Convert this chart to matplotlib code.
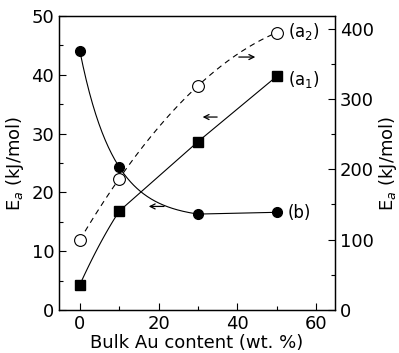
import numpy as np
import matplotlib
matplotlib.use("Agg")
import matplotlib.pyplot as plt
from matplotlib.ticker import MultipleLocator

# data
au = [0, 10, 30, 50]
ea_b = [44.0, 24.3, 16.3, 16.6]        # (b), left axis
ea_a1 = [4.3, 16.8, 28.6, 39.7]        # (a1), left axis
ea_a2 = [100, 186, 319, 394]           # (a2), right axis


def exp_through(x, y, xs):
    # y = A + B*q**(x/10) through the points at 0, 10, 30
    d1 = y[0] - y[1]
    d2 = y[1] - y[2]
    q = (-1 + np.sqrt(1 + 4 * d2 / d1)) / 2
    B = d1 / (1 - q)
    A = y[0] - B
    return A + B * q ** (xs / 10.0)


fig = plt.figure(figsize=(3.99, 3.53), dpi=100)
ax = fig.add_axes([0.148, 0.122, 0.692, 0.833])
ax2 = ax.twinx()

xs = np.linspace(0, 50, 200)

# (b): smooth decay to 30, then straight
xb = np.linspace(0, 30, 150)
ax.plot(xb, exp_through(au[:3], ea_b[:3], xb), color="black", lw=0.8)
ax.plot(au[2:], ea_b[2:], color="black", lw=0.8)
ax.plot(au, ea_b, "o", color="black", ms=7, zorder=5)

# (a1): gentle bend at the start, straight after
c1 = np.polyfit(au[:3], ea_a1[:3], 2)
x1 = np.linspace(0, 10, 50)
ax.plot(x1, np.polyval(c1, x1), color="black", lw=0.8)
ax.plot(au[1:], ea_a1[1:], color="black", lw=0.8)
ax.plot(au, ea_a1, "s", color="black", ms=6.5, zorder=5)

# (a2) on right axis
c2 = np.polyfit(au, ea_a2, 2)
ax2.plot(xs, np.polyval(c2, xs), color="black", lw=0.8, ls=(0, (5, 4)))
ax2.plot(au, ea_a2, "o", mfc="white", mec="black", mew=0.8, ms=8.5, zorder=5)

ax.set_xlim(-5.3, 64.9)
ax.set_ylim(0, 50)
ax2.set_ylim(0, 418)

ax.xaxis.set_major_locator(MultipleLocator(20))
ax.xaxis.set_minor_locator(MultipleLocator(10))
ax.yaxis.set_major_locator(MultipleLocator(10))
ax.yaxis.set_minor_locator(MultipleLocator(5))
ax2.yaxis.set_major_locator(MultipleLocator(100))
ax2.yaxis.set_minor_locator(MultipleLocator(50))

for a in (ax, ax2):
    a.tick_params(which="both", direction="in", labelsize=13, width=0.8)
    a.tick_params(which="major", length=5)
    a.tick_params(which="minor", length=3)
    for s in a.spines.values():
        s.set_linewidth(0.9)

ax.set_xlabel("Bulk Au content (wt. %)", fontsize=13, labelpad=1)
ax.set_ylabel("E$_a$ (kJ/mol)", fontsize=13, labelpad=4)
ax2.set_ylabel("E$_a$ (kJ/mol)", fontsize=13, labelpad=2)

# arrows pointing to the axis each series belongs to
arr = dict(arrowstyle="->", lw=0.9, color="black", mutation_scale=9)
ax.annotate("", xy=(45.3, 43.0), xytext=(39.7, 43.0), arrowprops=arr)
ax.annotate("", xy=(30.5, 32.8), xytext=(35.6, 32.8), arrowprops=arr)
ax.annotate("", xy=(16.8, 17.6), xytext=(22.1, 17.6), arrowprops=arr)

ax.text(52.9, 47.3, "(a$_2$)", fontsize=12, ha="left", va="center")
ax.text(52.9, 39.2, "(a$_1$)", fontsize=12, ha="left", va="center")
ax.text(52.9, 16.4, "(b)", fontsize=12, ha="left", va="center")

fig.savefig("out.png", dpi=100)
